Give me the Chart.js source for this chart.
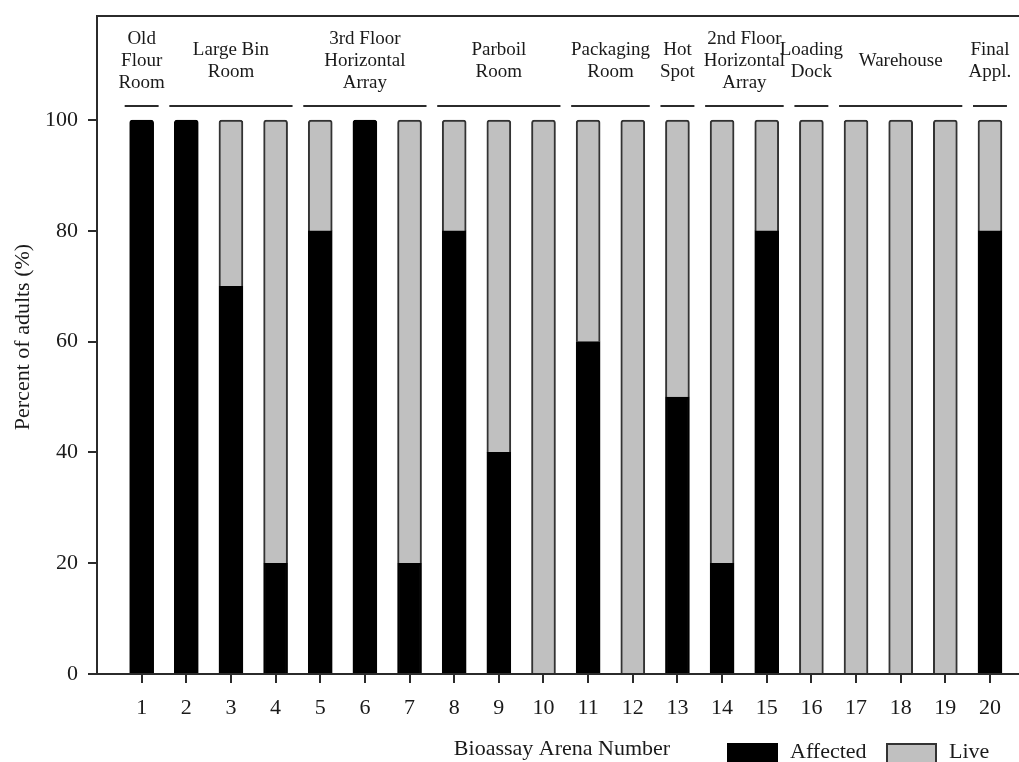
<!DOCTYPE html>
<html>
<head>
<meta charset="utf-8">
<title>Bioassay Arena Results</title>
<script src="https://cdn.jsdelivr.net/npm/chart.js@4"></script>
<style>
  html, body { margin: 0; padding: 0; background: #fff; overflow: hidden; }
  #wrap { width: 1019px; height: 762px; }
</style>
</head>
<body>
<div id="wrap"><canvas id="c" width="1019" height="762"></canvas></div>
<script>
// Bioassay arenas and the share of adults affected / still alive in each
const arenas = [1, 2, 3, 4, 5, 6, 7, 8, 9, 10, 11, 12, 13, 14, 15, 16, 17, 18, 19, 20];
const affected = [100, 100, 70, 20, 80, 100, 20, 80, 40, 0, 60, 0, 50, 20, 80, 0, 0, 0, 0, 80];
const live = [0, 0, 30, 80, 20, 0, 80, 20, 60, 100, 40, 100, 50, 80, 20, 100, 100, 100, 100, 20];
const yTickValues = [0, 20, 40, 60, 80, 100];

// Location groups shown above the bars (first and last arena of each)
const groupNames = [
  ['Old', 'Flour', 'Room'],
  ['Large Bin', 'Room'],
  ['3rd Floor', 'Horizontal', 'Array'],
  ['Parboil', 'Room'],
  ['Packaging', 'Room'],
  ['Hot', 'Spot'],
  ['2nd Floor', 'Horizontal', 'Array'],
  ['Loading', 'Dock'],
  ['Warehouse'],
  ['Final', 'Appl.']
];
const groupFirst = [1, 2, 5, 8, 11, 13, 14, 16, 17, 20];
const groupLast = [1, 4, 7, 10, 12, 13, 15, 16, 19, 20];

const FONT = '"Liberation Serif", "Times New Roman", serif';
const INK = '#1a1a1a';
const AXIS = '#2b2b2b';

const decorations = {
  id: 'decorations',
  afterDraw(chart) {
    const ctx = chart.ctx;
    const area = chart.chartArea;
    const xs = chart.scales.x;
    ctx.save();

    // top frame line
    ctx.strokeStyle = AXIS;
    ctx.lineWidth = 2;
    ctx.beginPath();
    ctx.moveTo(area.left - 1, area.top);
    ctx.lineTo(area.right, area.top);
    ctx.stroke();

    // group labels with underlines
    ctx.fillStyle = INK;
    ctx.font = '19px ' + FONT;
    ctx.textAlign = 'center';
    ctx.textBaseline = 'middle';
    const lineY = area.top + 90;
    const lineH = 22;
    groupNames.forEach((lines, i) => {
      const x0 = xs.getPixelForValue(groupFirst[i] - 0.38);
      const x1 = xs.getPixelForValue(groupLast[i] + 0.38);
      ctx.beginPath();
      ctx.moveTo(x0, lineY);
      ctx.lineTo(x1, lineY);
      ctx.stroke();
      const cx = (x0 + x1) / 2;
      const cy = area.top + 45;
      const start = cy - (lines.length - 1) * lineH / 2;
      lines.forEach((t, k) => ctx.fillText(t, cx, start + k * lineH));
    });

    // axis titles
    ctx.font = '22px ' + FONT;
    ctx.fillText('Bioassay Arena Number', 562, 749);
    ctx.save();
    ctx.translate(23, 337);
    ctx.rotate(-Math.PI / 2);
    ctx.fillText('Percent of adults (%)', 0, 0);
    ctx.restore();

    // legend
    const sets = chart.data.datasets;
    const legendX = [727, 886];
    ctx.textAlign = 'left';
    sets.forEach((ds, i) => {
      const bx = legendX[i];
      ctx.fillStyle = ds.backgroundColor;
      ctx.fillRect(bx, 743, 51, 24);
      ctx.strokeStyle = ds.borderColor;
      ctx.lineWidth = 2;
      ctx.strokeRect(bx + 1, 744, 49, 24);
      ctx.fillStyle = INK;
      ctx.fillText(ds.label, bx + 63, 752);
    });
    ctx.restore();
  }
};

new Chart(document.getElementById('c'), {
  type: 'bar',
  data: {
    datasets: [
      {
        label: 'Affected',
        data: arenas.map((a, i) => ({ x: a, y: affected[i] })),
        backgroundColor: '#000000',
        borderColor: '#000000',
        borderWidth: 2,
        borderRadius: 3,
        barThickness: 24
      },
      {
        label: 'Live',
        data: arenas.map((a, i) => ({ x: a, y: live[i] })),
        backgroundColor: '#c0c0c0',
        borderColor: '#333333',
        borderWidth: 2,
        borderRadius: 3,
        barThickness: 24
      }
    ]
  },
  options: {
    responsive: false,
    animation: false,
    devicePixelRatio: 1,
    layout: { padding: { top: 16, left: 0, right: 0, bottom: 0 } },
    plugins: { legend: { display: false }, tooltip: { enabled: false } },
    scales: {
      x: {
        type: 'linear',
        stacked: true,
        offset: false,
        min: 0,
        max: 20.65,
        afterBuildTicks(scale) {
          scale.ticks = arenas.map(v => ({ value: v }));
        },
        afterFit(scale) {
          scale.height = 88;
          scale.paddingLeft = 0;
          scale.paddingRight = 0;
        },
        ticks: {
          autoSkip: false,
          maxRotation: 0,
          padding: 12,
          color: INK,
          font: { family: FONT, size: 22 }
        },
        grid: { offset: false, drawOnChartArea: false, drawTicks: true, tickLength: 9, color: AXIS, lineWidth: 2 },
        border: { display: true, color: AXIS, width: 2 }
      },
      y: {
        stacked: true,
        min: 0,
        max: 118.8,
        afterBuildTicks(scale) {
          scale.ticks = yTickValues.map(v => ({ value: v }));
        },
        afterFit(scale) {
          scale.width = 97;
          scale.paddingTop = 0;
          scale.paddingBottom = 0;
        },
        ticks: {
          padding: 10,
          color: INK,
          font: { family: FONT, size: 22 }
        },
        grid: { drawOnChartArea: false, drawTicks: true, tickLength: 9, color: AXIS, lineWidth: 2 },
        border: { display: true, color: AXIS, width: 2 }
      }
    }
  },
  plugins: [decorations]
});
</script>
</body>
</html>
